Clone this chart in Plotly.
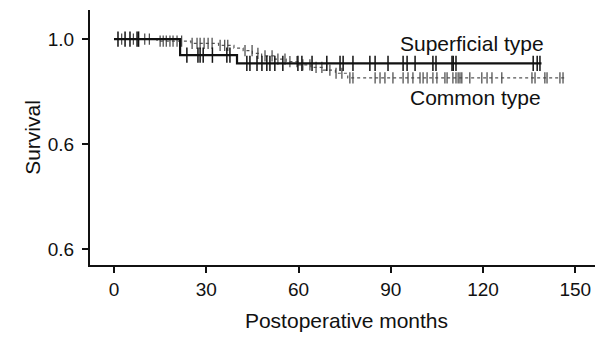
import numpy as np
import plotly.graph_objects as go

# ---- data ----
sup_times = [0, 21.5, 40, 139]
sup_surv = [1.0, 0.9695, 0.9537, 0.9537]
sup_censor = [1.3, 3.6, 5.2, 7.5, 8.0, 23.7, 27.3, 28.0, 29.0, 32.0, 36.7, 37.7,
              43.2, 44.2, 46.5, 48.1, 49.7, 50.7, 52.3, 54.9, 59.8, 61.1, 64.4, 69.2,
              73.5, 74.5, 77.7, 83.2, 84.9, 89.1, 94.0, 95.3, 97.9, 103.7, 104.7,
              109.9, 110.3, 111.2, 136.3, 137.6, 138.5]

com_times = [0, 14, 25, 34, 39, 42, 45, 48, 52, 56, 60, 64, 68, 72, 76, 147]
com_surv = [1.0, 0.996, 0.992, 0.988, 0.983, 0.978, 0.973, 0.968, 0.962, 0.957,
            0.951, 0.946, 0.941, 0.935, 0.926, 0.926]
com_censor = [2.5, 6.3, 10.0, 11.5, 15.0, 16.0, 17.0, 18.2, 19.2, 20.5, 22.0,
              25.4, 27.0, 28.0, 29.3, 30.6, 31.9, 34.5, 36.0, 37.0,
              42.6, 44.9, 46.8, 49.1, 51.4, 53.3, 55.6, 57.2, 59.5, 61.4, 63.7, 65.7,
              67.6, 70.2, 72.2, 74.1, 76.7, 77.7, 84.9, 86.5, 88.1, 90.7, 94.0, 95.6,
              97.2, 99.5, 100.5, 101.8, 103.7, 105.0, 107.6, 108.3, 110.2, 111.2,
              111.9, 112.5, 113.1, 115.7, 119.6, 121.3, 122.9, 126.1, 135.9, 136.9,
              140.1, 140.8, 145.0, 146.0]

x_ticks = [0, 30, 60, 90, 120, 150]
y_tickvals = [0.6, 0.8, 1.0]
y_ticktext = ["0.6", "0.6", "1.0"]
labels = ["Superficial type", "Common type"]


def surv_at(times, surv, t):
    idx = np.searchsorted(np.array(times), np.array(t), side="right") - 1
    return np.array(surv)[idx]


fig = go.Figure()

# Common type (dotted grey line)
fig.add_trace(go.Scatter(x=com_times, y=com_surv, mode="lines", line_shape="hv",
                         line=dict(color="#555555", width=1.2, dash="dot"),
                         showlegend=False, hoverinfo="skip"))
fig.add_trace(go.Scatter(x=com_censor, y=surv_at(com_times, com_surv, com_censor),
                         mode="markers",
                         marker=dict(symbol="line-ns", size=8,
                                     line=dict(color="#444444", width=1.2)),
                         showlegend=False, hoverinfo="skip"))

# Superficial type (solid black line)
fig.add_trace(go.Scatter(x=sup_times, y=sup_surv, mode="lines", line_shape="hv",
                         line=dict(color="#111111", width=2.2),
                         showlegend=False, hoverinfo="skip"))
fig.add_trace(go.Scatter(x=sup_censor, y=surv_at(sup_times, sup_surv, sup_censor),
                         mode="markers",
                         marker=dict(symbol="line-ns", size=11,
                                     line=dict(color="#111111", width=1.5)),
                         showlegend=False, hoverinfo="skip"))

font_family = "Liberation Sans, Arial, sans-serif"

fig.add_annotation(x=92.3, y=0.992, text=labels[0], showarrow=False,
                   xanchor="left", yanchor="middle",
                   font=dict(family=font_family, size=21, color="#111111"))
fig.add_annotation(x=95.6, y=0.889, text=labels[1], showarrow=False,
                   xanchor="left", yanchor="middle",
                   font=dict(family=font_family, size=21, color="#111111"))

# The page body adds an 8px offset, so the figure is sized to compensate.
fig.update_layout(
    width=595, height=330,
    margin=dict(l=82, r=0, t=2, b=73),
    paper_bgcolor="white", plot_bgcolor="white",
    font=dict(family=font_family, size=19, color="#111111"),
    xaxis=dict(range=[-7.8, 159.0], tickvals=x_ticks, ticks="outside", ticklen=6,
               tickwidth=1.5, tickcolor="#111111", showline=True, linewidth=2,
               linecolor="#111111", showgrid=False, zeroline=False, automargin=False,
               title=dict(text="Postoperative months", font=dict(size=21), standoff=15),
               tickfont=dict(size=19)),
    yaxis=dict(range=[0.5695, 1.0555], tickvals=y_tickvals, ticktext=y_ticktext,
               ticks="outside", ticklen=6, tickwidth=1.5, tickcolor="#111111",
               showline=True, linewidth=2, linecolor="#111111", showgrid=False,
               zeroline=False, ticklabelstandoff=4, automargin=False,
               title=dict(text="Survival", font=dict(size=21), standoff=1),
               tickfont=dict(size=19)),
)

fig.write_html("out.html")
